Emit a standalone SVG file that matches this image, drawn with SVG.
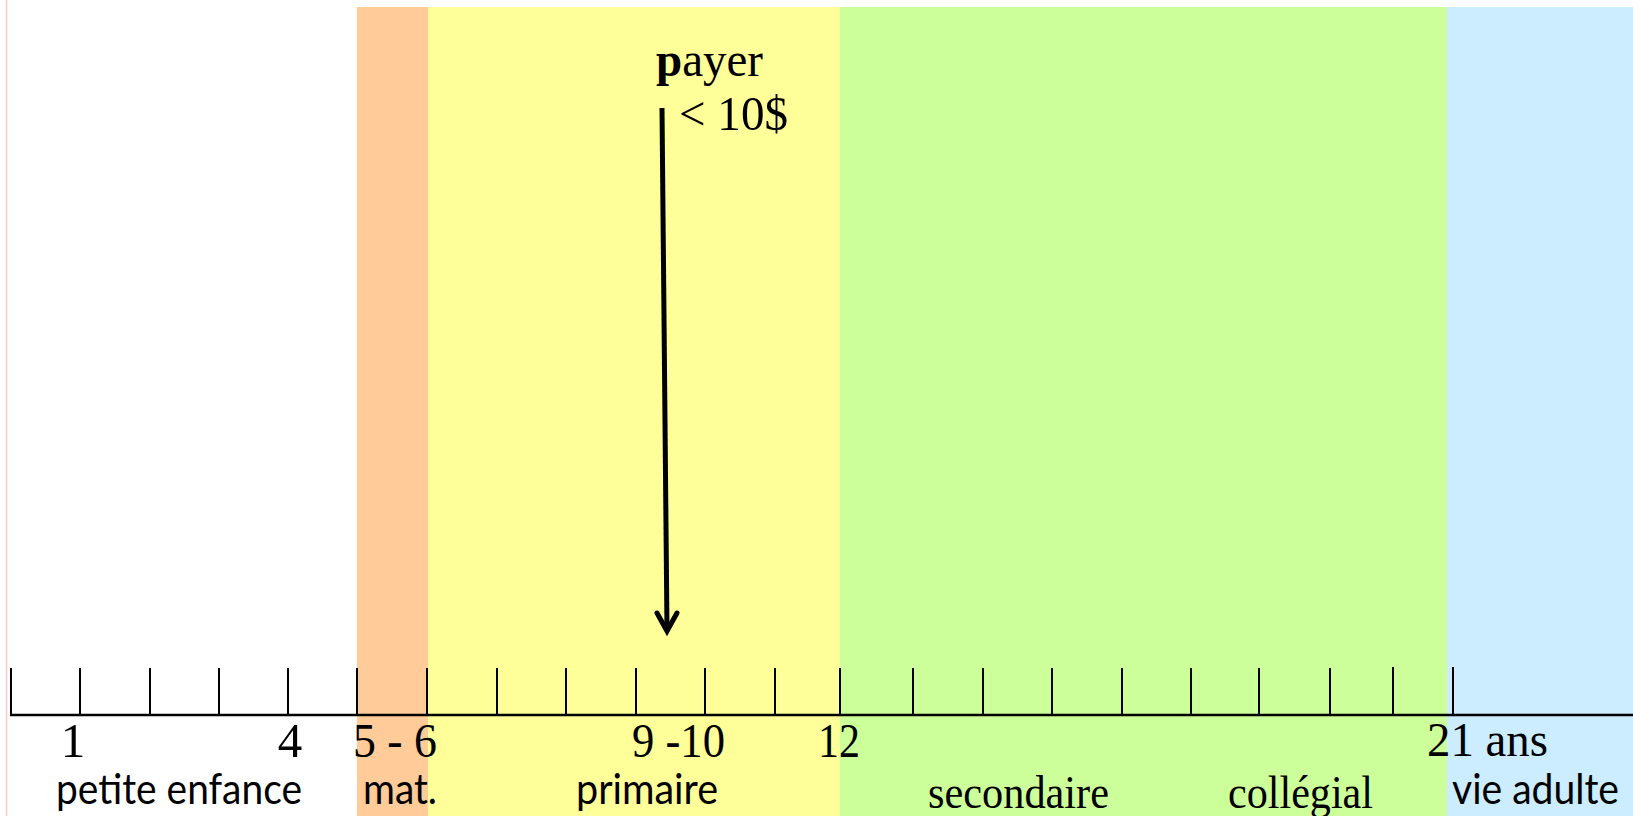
<svg xmlns="http://www.w3.org/2000/svg" width="1633" height="816" viewBox="0 0 1633 816">
<style>
.num{font-family:"Liberation Serif","Times New Roman",serif;font-size:49px;fill:#000}
.ser{font-family:"Liberation Serif","Times New Roman",serif;font-size:46px;fill:#000}
.sans{font-family:Lato,"Open Sans",sans-serif;font-size:42px;fill:#000}
.tick{stroke:#000;stroke-width:2}
</style>
<rect width="1633" height="816" fill="#fff"/>
<g id="bands">
<rect x="357" y="7" width="71" height="809" fill="#FFCC99"/>
<rect x="428" y="7" width="412" height="809" fill="#FFFF99"/>
<rect x="840" y="7" width="607" height="809" fill="#CCFF99"/>
<rect x="1447" y="7" width="186" height="809" fill="#CCECFF"/>
</g>
<line x1="6.5" y1="0" x2="6.5" y2="816" stroke="#FFCCCC" stroke-width="1.5"/>
<g id="axis">
<line x1="10" y1="715" x2="1633" y2="715" stroke="#000" stroke-width="2.5"/>
<g class="tick">
<line x1="11" y1="668" x2="11" y2="715"/>
<line x1="80" y1="668" x2="80" y2="715"/>
<line x1="150" y1="668" x2="150" y2="715"/>
<line x1="219" y1="668" x2="219" y2="715"/>
<line x1="288" y1="668" x2="288" y2="715"/>
<line x1="357" y1="668" x2="357" y2="715"/>
<line x1="427" y1="668" x2="427" y2="715"/>
<line x1="497" y1="668" x2="497" y2="715"/>
<line x1="566" y1="668" x2="566" y2="715"/>
<line x1="636" y1="668" x2="636" y2="715"/>
<line x1="705" y1="668" x2="705" y2="715"/>
<line x1="775" y1="668" x2="775" y2="715"/>
<line x1="840" y1="668" x2="840" y2="715"/>
<line x1="913" y1="668" x2="913" y2="715"/>
<line x1="983" y1="668" x2="983" y2="715"/>
<line x1="1052" y1="668" x2="1052" y2="715"/>
<line x1="1122" y1="668" x2="1122" y2="715"/>
<line x1="1191" y1="668" x2="1191" y2="715"/>
<line x1="1259" y1="668" x2="1259" y2="715"/>
<line x1="1330" y1="668" x2="1330" y2="715"/>
<line x1="1393" y1="667" x2="1393" y2="715"/>
<line x1="1453" y1="667" x2="1453" y2="715"/>
</g>
</g>
<g id="numbers">
<text class="num" x="73" y="757" text-anchor="middle">1</text>
<text class="num" x="290" y="757" text-anchor="middle">4</text>
<text class="num" x="353" y="757" textLength="84" lengthAdjust="spacingAndGlyphs">5 - 6</text>
<text class="num" x="632" y="757" textLength="93" lengthAdjust="spacingAndGlyphs">9 -10</text>
<text class="num" x="818" y="757" textLength="42" lengthAdjust="spacingAndGlyphs">12</text>
<text class="num" x="1427" y="756" textLength="121" lengthAdjust="spacingAndGlyphs">21 ans</text>
</g>
<g id="labels">
<text class="sans" x="56" y="804" textLength="246" lengthAdjust="spacingAndGlyphs">petite enfance</text>
<text class="sans" x="363" y="804" textLength="74" lengthAdjust="spacingAndGlyphs">mat.</text>
<text class="sans" x="576" y="804" textLength="142" lengthAdjust="spacingAndGlyphs">primaire</text>
<text class="ser" x="928" y="808" textLength="181" lengthAdjust="spacingAndGlyphs">secondaire</text>
<text class="ser" x="1228" y="808" textLength="145" lengthAdjust="spacingAndGlyphs">collégial</text>
<text class="sans" x="1452" y="804" textLength="167" lengthAdjust="spacingAndGlyphs">vie adulte</text>
</g>
<g id="payer-note">
<text class="num" x="656" y="76" textLength="107" lengthAdjust="spacingAndGlyphs"><tspan font-weight="bold">p</tspan>ayer</text>
<text class="num" x="679" y="130" textLength="109" lengthAdjust="spacingAndGlyphs">&lt; 10$</text>
</g>
<g id="connectors">
<line x1="662" y1="108" x2="667" y2="630" stroke="#000" stroke-width="5"/>
<polyline points="657,613 667,631 677,613" fill="none" stroke="#000" stroke-width="5" stroke-linecap="round" stroke-linejoin="miter"/>
</g>
</svg>
